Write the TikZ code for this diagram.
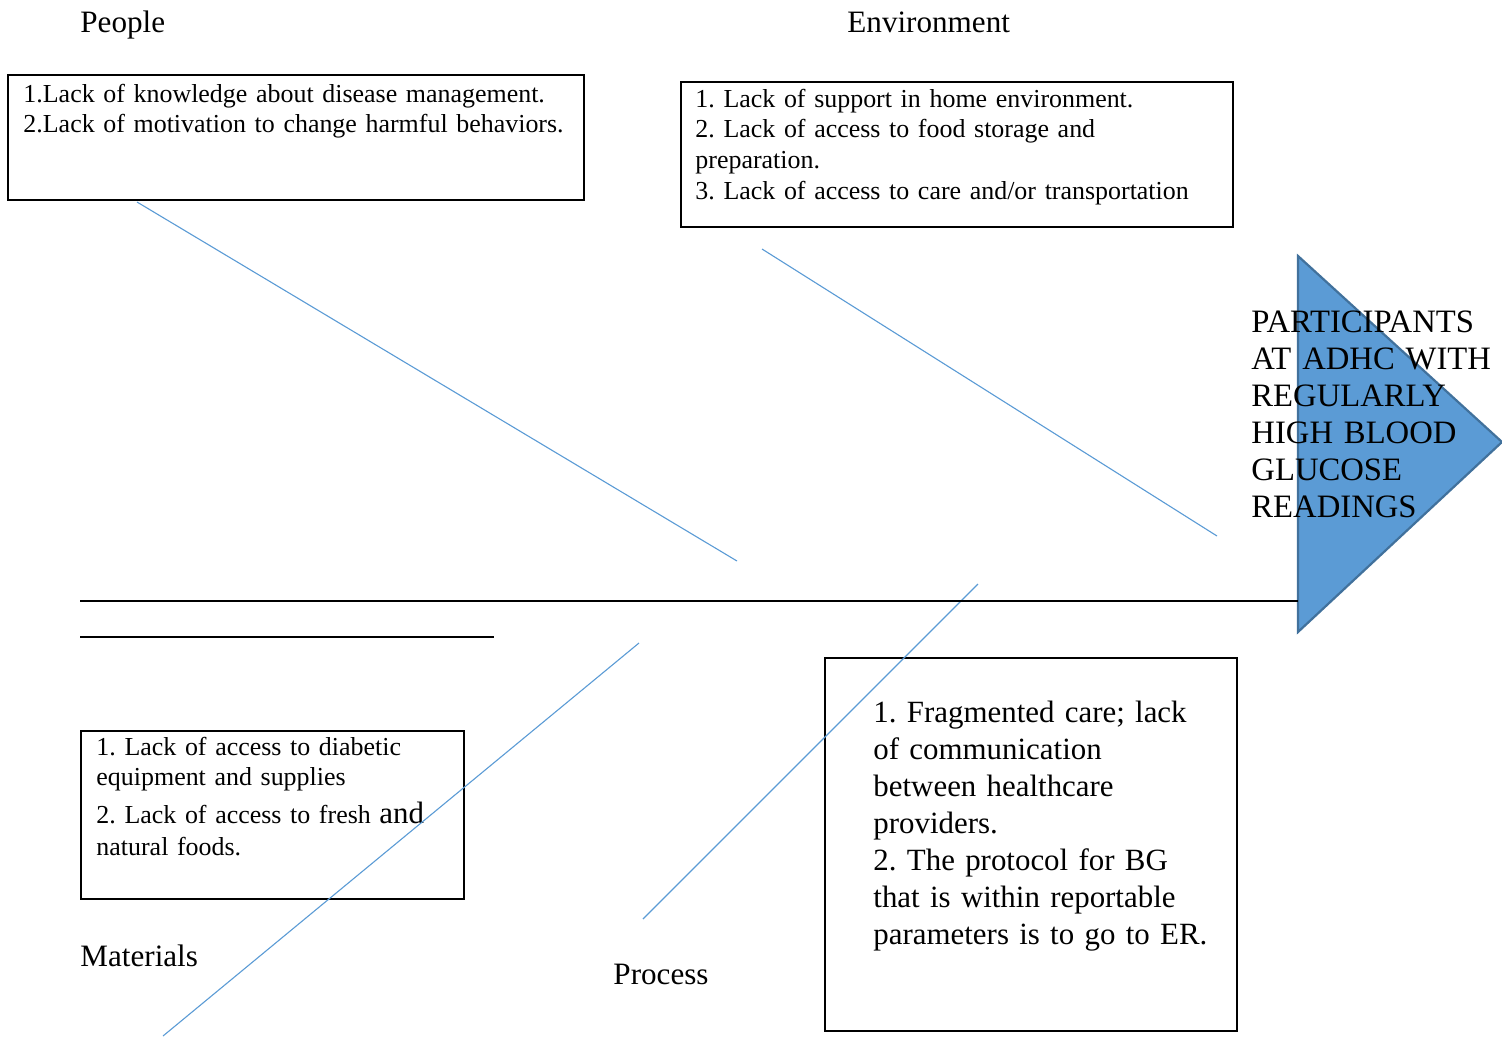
\documentclass[tikz,border=0pt]{standalone}
\usepackage{fontspec}
\setmainfont{Liberation Serif}
\usetikzlibrary{fit}
\definecolor{bonecol}{HTML}{5B9BD5}
\definecolor{headfill}{HTML}{5B9BD5}
\definecolor{headline}{HTML}{41719C}
\frenchspacing

\begin{document}
\begin{tikzpicture}[x=0.453pt, y=-0.453pt, inner sep=0pt,
    cat/.style={anchor=base west, font=\fontsize{14.1}{16.8}\selectfont},
    smalltxt/.style={anchor=base west, align=left, text width=300pt, font=\fontsize{11.75}{13.9}\selectfont},
    bigtxt/.style={anchor=base west, align=left, text width=300pt, font=\fontsize{14}{16.8}\selectfont},
    causebox/.style={draw, line width=0.9pt, inner sep=0pt},
    bone/.style={bonecol, line width=0.5pt},
    spine/.style={black, line width=0.8pt}]
  \useasboundingbox (0,0) rectangle (1502,1036);
  % fish head
  \filldraw [fill=headfill, draw=headline, line width=1pt]
        (1298,256) -- (1502,442) -- (1298,632) -- cycle;
  \path node (People)  at (80,32)   [cat] {People}
        node (Env)     at (847,32)  [cat] {Environment}
        node (Mat)     at (80,966)  [cat] {Materials}
        node (Proc)    at (613,984) [cat] {Process}
        %
        node (Pbox) [causebox, fit={(8,75) (584,200)}] {}
        node (Ebox) [causebox, fit={(681,82) (1233,227)}] {}
        node (Mbox) [causebox, fit={(81,731) (464,899)}] {}
        node (Rbox) [causebox, fit={(825,658) (1237,1031)}] {}
        %
        node (Ptxt) at (23,102) [smalltxt]
          {1.Lack of knowledge about disease management.\\
           2.Lack of motivation to change harmful behaviors.}
        node (Etxt) at (695,107) [smalltxt]
          {1. Lack of support in home environment.\\
           2. Lack of access to food storage and\\
           preparation.\\
           3. Lack of access to care and/or transportation}
        node (Mtxt) at (96,755) [smalltxt]
          {1. Lack of access to diabetic\\
           equipment and supplies\\[3pt]
           2. Lack of access to fresh {\fontsize{14}{16.8}\selectfont and}\\[1pt]
           natural foods.}
        node (Rtxt) at (873,722) [bigtxt]
          {1. Fragmented care; lack\\
           of communication\\
           between healthcare\\
           providers.\\
           2. The protocol for BG\\
           that is within reportable\\
           parameters is to go to ER.}
        node (Head) at (1251,332) [bigtxt, font=\fontsize{14.8}{16.8}\selectfont]
          {PARTICIPANTS\\
           AT ADHC WITH\\
           REGULARLY\\
           HIGH BLOOD\\
           GLUCOSE\\
           READINGS}
        %
        coordinate (pa) at (137,202)  coordinate (pb) at (737,561)
        coordinate (ea) at (762,249)  coordinate (eb) at (1217,536)
        coordinate (ma) at (639,643)  coordinate (mb) at (163,1036)
        coordinate (ra) at (978,584)  coordinate (rb) at (643,919)
        coordinate (s1) at (80,601)   coordinate (s2) at (1298,601)
        coordinate (t1) at (80,637)   coordinate (t2) at (494,637);
  \draw [bone] (pa) -- (pb)
               (ea) -- (eb)
               (ma) -- (mb)
               (ra) -- (rb);
  \draw [spine] (s1) -- (s2)
                (t1) -- (t2);
\end{tikzpicture}
\end{document}
